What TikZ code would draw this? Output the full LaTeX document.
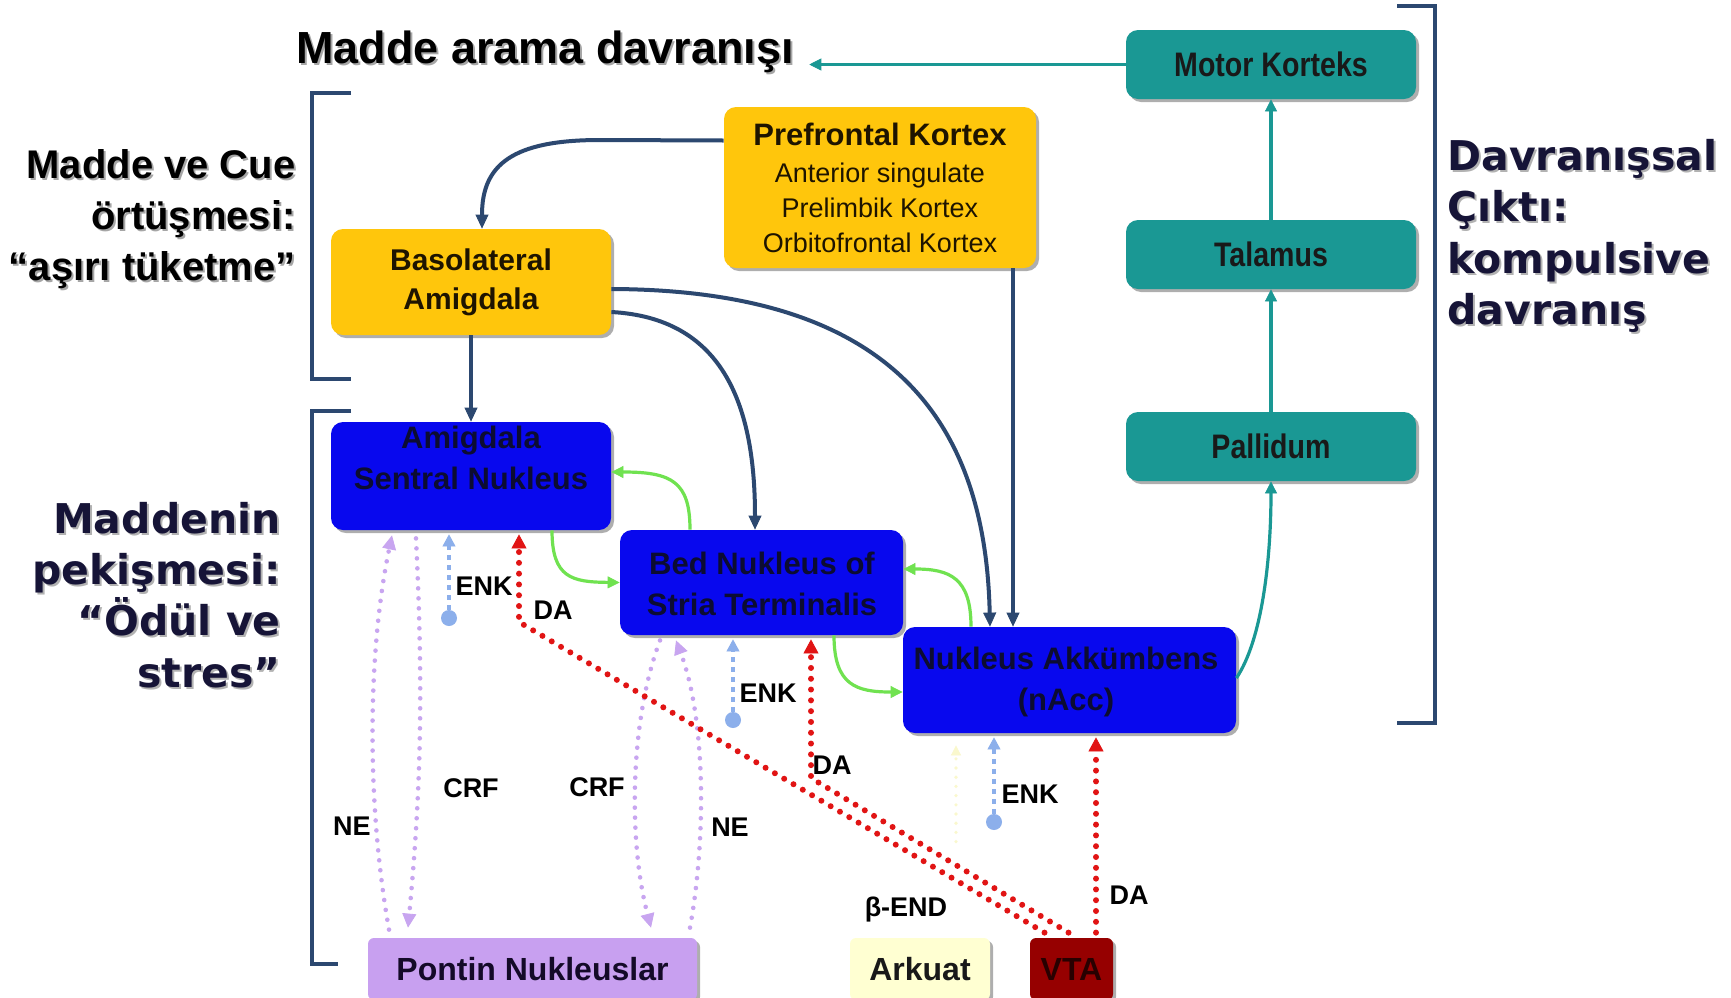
\documentclass[tikz,border=0pt]{standalone}
\usepackage{fontspec}
\usepackage{graphicx}
\setmainfont{Liberation Sans}
\newfontfamily\dvs{DejaVu Sans}
\usetikzlibrary{arrows.meta,shadows,calc}
\definecolor{navyline}{RGB}{44,72,112}
\definecolor{tealbox}{RGB}{26,152,148}
\definecolor{goldbox}{RGB}{255,198,12}
\definecolor{bluebox}{RGB}{8,8,238}
\definecolor{greenar}{RGB}{112,226,80}
\definecolor{redar}{RGB}{225,20,20}
\definecolor{lavar}{RGB}{200,165,240}
\definecolor{enkar}{RGB}{140,175,235}
\definecolor{pontinbox}{RGB}{200,160,240}
\definecolor{arcbox}{RGB}{255,255,210}
\definecolor{vtabox}{RGB}{150,0,0}
\definecolor{navytext}{RGB}{22,20,55}
\definecolor{bluetext}{RGB}{12,12,50}
\definecolor{paleyellow}{RGB}{250,248,205}
\newcommand\nar[1]{\scalebox{0.84}[1]{#1}}
\begin{document}
\begin{tikzpicture}[x=0.5pt,y=-0.5pt,
  boxbase/.style={rounded corners=6pt, inner sep=0pt, align=center,
    drop shadow={shadow xshift=1.5pt,shadow yshift=-1.5pt,opacity=0.45,fill=black!70}},
  tealnode/.style={boxbase, fill=tealbox, minimum width=145pt, minimum height=34.5pt,
    text=black!90, font=\bfseries\fontsize{17}{20}\selectfont},
  goldnode/.style={boxbase, fill=goldbox, text={rgb,255:red,30;green,20;blue,0}},
  bluenode/.style={boxbase, fill=bluebox},
  bluetxt/.style={inner sep=0pt, align=center, text=bluetext, font=\bfseries\fontsize{15.5}{20.5}\selectfont},
  botnode/.style={boxbase, rounded corners=3pt, minimum height=31pt, font=\bfseries\fontsize{16}{19}\selectfont},
  navyarrow/.style={draw=navyline, line width=2pt, -{Triangle[length=7pt,width=6.5pt,line width=0.4pt]}},
  tealarrow/.style={draw=tealbox, line width=1.6pt, -{Triangle[length=6pt,width=6pt,line width=0.4pt]}},
  greenarrow/.style={draw=greenar, line width=1.6pt, -{Triangle[length=6pt,width=6pt,line width=0.4pt]}},
  reddot/.style={draw=redar, line width=3pt, line cap=round, dash pattern=on 0pt off 5.4pt,
    -{Triangle[length=7pt,width=7.5pt,line width=0.4pt]}, shorten >=2pt},
  lavarrow/.style={draw=lavar, line width=2.3pt, line cap=round, dash pattern=on 0pt off 5pt,
    -{Triangle[length=7pt,width=7pt,line width=0.4pt]}},
  enkarrow/.style={draw=enkar, line width=1.6pt, dash pattern=on 2.5pt off 2.5pt,
    -{Triangle[length=6pt,width=6.5pt,line width=0.4pt]}, shorten >=2pt},
  enkdot/.style={circle, fill=enkar, inner sep=0pt, minimum size=8pt},
  faintarrow/.style={draw=paleyellow, line width=1.8pt, line cap=round, dash pattern=on 0pt off 4.6pt,
    -{Triangle[length=5pt,width=5pt,line width=0.4pt]}, shorten >=6pt},
  bracketline/.style={draw=navyline, line width=2pt},
  lbl/.style={inner sep=0pt, font=\bfseries\fontsize{13.5}{14}\selectfont},
  lefttxt/.style={anchor=east, align=right, inner sep=0pt, font=\bfseries\fontsize{20}{25.5}\selectfont},
  navytxt/.style={inner sep=0pt, font=\dvs\bfseries\fontsize{20.5}{25.7}\selectfont},
  ttlstyle/.style={inner xsep=7.5pt, inner ysep=0pt, font=\bfseries\fontsize{22.5}{26}\selectfont}
]
\useasboundingbox (0,0) rectangle (1731,997);
\clip (0,0) rectangle (1731,997);
\fill[white] (0,0) rectangle (1731,997);

% ---------- texts ----------
\node[ttlstyle, text=black!35] (ttlS) at (547,54) {Madde arama davranışı};
\node[ttlstyle] (ttl) at (545,52) {Madde arama davranışı};

\node[lefttxt, text=black!35] (cueS) at (298,221) {Madde ve Cue\\örtüşmesi:\\“aşırı tüketme”};
\node[lefttxt] (cue) at (296,219) {Madde ve Cue\\örtüşmesi:\\“aşırı tüketme”};

\node[navytxt, anchor=east, align=right, text=black!30] (pekS) at (283,597) {Maddenin\\pekişmesi:\\“Ödül ve\\stres”};
\node[navytxt, anchor=east, align=right, text=navytext] (pek) at (281,595) {Maddenin\\pekişmesi:\\“Ödül ve\\stres”};

\node[navytxt, anchor=west, align=left, text=black!30] (davS) at (1449,238) {Davranışsal\\Çıktı:\\kompulsive\\davranış};
\node[navytxt, anchor=west, align=left, text=navytext] (dav) at (1447,236) {Davranışsal\\Çıktı:\\kompulsive\\davranış};

% ---------- brackets ----------
\draw[bracketline] (351,93) -- (312,93) -- (312,379) -- (351,379);
\draw[bracketline] (351,411) -- (312,411) -- (312,964) -- (338,964);
\draw[bracketline] (1397,6) -- (1435,6) -- (1435,723) -- (1397,723);

% ---------- boxes ----------
\node[tealnode] (MK) at (1271,64.5) {\nar{Motor Korteks}};
\node[tealnode] (TA) at (1271,254.5) {\nar{Talamus}};
\node[tealnode] (PA) at (1271,446.5) {\nar{Pallidum}};

\node[goldnode, minimum width=156pt, minimum height=80.5pt,
      font=\fontsize{13.5}{17.5}\selectfont] (PFC) at (880,187.5)
  {{\bfseries\fontsize{15.5}{17.5}\selectfont Prefrontal Kortex}\\[1pt]Anterior singulate\\Prelimbik Kortex\\Orbitofrontal Kortex};
\node[goldnode, minimum width=140pt, minimum height=53pt,
      font=\bfseries\fontsize{15}{19.5}\selectfont] (BLA) at (471,282) {Basolateral\\Amigdala};

\node[bluenode, minimum width=140pt, minimum height=54pt] (CeA) at (471,476) {};
\node[bluetxt] (CeAt) at (471,458) {Amigdala\\Sentral Nukleus};
\node[bluenode, minimum width=141.5pt, minimum height=52.5pt] (BNST) at (761.5,582.5) {};
\node[bluetxt] (BNSTt) at (762,584) {Bed Nukleus of\\Stria Terminalis};
\node[bluenode, minimum width=166.5pt, minimum height=53pt] (NAc) at (1069.5,680) {};
\node[bluetxt] (NAct) at (1066,682) {Nukleus Akkümbens\\(nAcc)};

\node[botnode, fill=pontinbox, minimum width=164.5pt, text={rgb,255:red,20;green,10;blue,40}] (PN) at (532.5,969) {Pontin Nukleuslar};
\node[botnode, fill=arcbox, minimum width=70pt, text=black!90] (ARC) at (920,969) {Arkuat};
\node[botnode, fill=vtabox, minimum width=41.5pt, text={rgb,255:red,40;green,0;blue,0}] (VTA) at (1071.5,969) {VTA};

% ---------- navy connectors ----------
\draw[navyarrow] ($(PFC.west)+(0,-47)$) -- (600,140) .. controls (512,140) and (482,165) .. ($(BLA.north)+(11,0)$);
\draw[navyarrow] ($(BLA.east)+(0,7)$) .. controls (870,290) and (985,400) .. ($(NAc.north)+(-79.5,0)$);
\draw[navyarrow] ($(BLA.east)+(0,30)$) .. controls (720,318) and (755,400) .. ($(BNST.north)+(-6.5,0)$);
\draw[navyarrow] (BLA.south) -- (CeA.north);
\coordinate (pfcd) at ($(PFC.south)+(133,0)$);
\draw[navyarrow] (pfcd) -- (pfcd |- NAc.north);

% ---------- teal connectors ----------
\draw[tealarrow] (MK.west) -- (MK.west -| ttl.east);
\draw[tealarrow] (TA.north) -- (MK.south);
\draw[tealarrow] (PA.north) -- (TA.south);
\draw[tealarrow] ($(NAc.east)+(0,-2)$) .. controls (1262,640) and (1271,560) .. (PA.south);

% ---------- green connectors ----------
\draw[greenarrow] ($(BNST.north)+(-71.5,0)$) .. controls (690,482) and (672,472) .. ($(CeA.east)+(0,-4)$);
\draw[greenarrow] ($(CeA.south)+(81,0)$) .. controls (552,578) and (572,582) .. (BNST.west);
\draw[greenarrow] ($(NAc.north)+(-98.5,0)$) .. controls (971,578) and (950,569) .. ($(BNST.east)+(0,-13.5)$);
\draw[greenarrow] ($(BNST.south)+(72.5,0)$) .. controls (834,685) and (856,692) .. ($(NAc.west)+(0,12)$);

% ---------- lavender (NE / CRF) ----------
\draw[lavarrow] ($(PN.north)+(-143.5,-8)$) .. controls (366,800) and (368,650) .. ($(CeA.south)+(-79,5)$);
\draw[lavarrow] ($(CeA.south)+(-55,8)$) .. controls (424,700) and (420,800) .. ($(PN.north)+(-124.5,-10)$);
\draw[lavarrow] ($(BNST.south)+(-101.5,5)$) .. controls (630,720) and (628,840) .. ($(PN.north)+(118.5,-10)$);
\draw[lavarrow] ($(PN.north)+(157.5,-10)$) .. controls (706,840) and (706,720) .. ($(BNST.south)+(-85.5,5)$);

% ---------- faint beta-END ----------
\coordinate (bs) at ($(ARC.north)+(36,-96)$);
\draw[faintarrow] (bs) -- (bs |- NAc.south);

% ---------- ENK ----------
\node[enkdot] (e1) at (449,618) {};
\draw[enkarrow] (e1) -- (e1 |- CeA.south);
\node[enkdot] (e2) at (733,720) {};
\draw[enkarrow] (e2) -- (e2 |- BNST.south);
\node[enkdot] (e3) at (994,822) {};
\draw[enkarrow] (e3) -- (e3 |- NAc.south);

% ---------- DA (red) ----------
\coordinate (r1s) at ($(VTA.north)+(-27,-5)$);
\coordinate (r1c) at (519,622);
\draw[reddot] (r1s) -- (r1c) -- (r1c |- CeA.south);
\coordinate (r2s) at ($(VTA.north)+(-3,-5)$);
\coordinate (r2c) at (811,778);
\draw[reddot] (r2s) -- (r2c) -- (r2c |- BNST.south);
\coordinate (r3s) at ($(VTA.north)+(24.5,-5)$);
\draw[reddot] (r3s) -- (r3s |- NAc.south);

% ---------- labels ----------
\node[lbl] (l1) at (484,586) {ENK};
\node[lbl] (l2) at (553,610) {DA};
\node[lbl] (l3) at (768,693) {ENK};
\node[lbl] (l4) at (832,765) {DA};
\node[lbl] (l5) at (1030,794) {ENK};
\node[lbl] (l6) at (1129,895) {DA};
\node[lbl] (l7) at (352,826) {NE};
\node[lbl] (l8) at (471,788) {CRF};
\node[lbl] (l9) at (597,787) {CRF};
\node[lbl] (l10) at (730,827) {NE};
\node[lbl] (l11) at (906,910) {β-END};
\end{tikzpicture}
\end{document}
